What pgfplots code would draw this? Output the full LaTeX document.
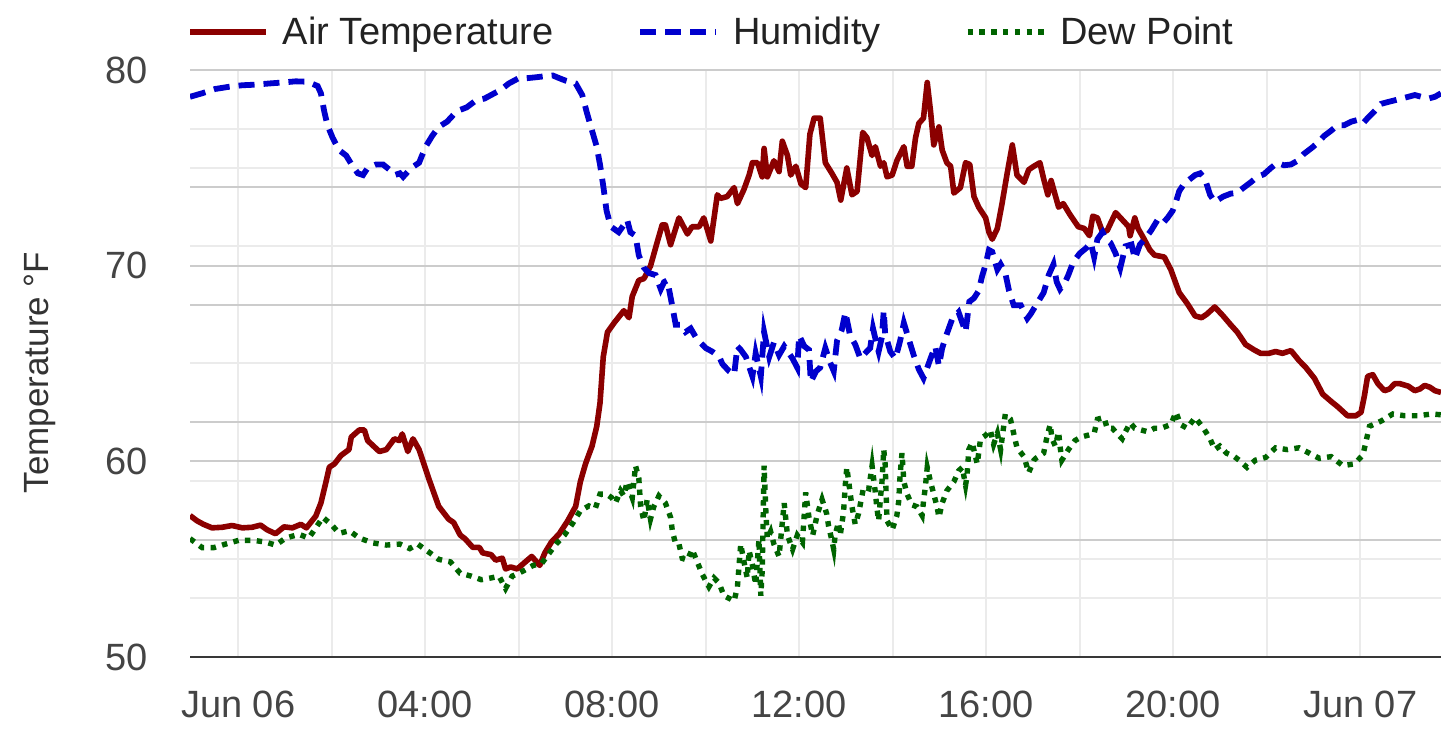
\documentclass[border=0pt]{standalone}
\usepackage{fontspec}
\setmainfont{Liberation Sans}
\usepackage{pgfplots}
\pgfplotsset{compat=1.18}
\definecolor{tempred}{HTML}{8B0000}
\definecolor{humblue}{HTML}{0000CD}
\definecolor{dewgreen}{HTML}{006400}
\definecolor{tickgray}{HTML}{444444}
\definecolor{legtext}{HTML}{222222}
\definecolor{gridmaj}{HTML}{CCCCCC}
\definecolor{gridmin}{HTML}{EBEBEB}
\begin{document}
\begin{tikzpicture}
\useasboundingbox (0,0) rectangle (720.5pt,371.5pt);
\begin{axis}[
  at={(95pt,43pt)}, anchor=south west,
  scale only axis, width=625.5pt, height=293.5pt,
  xmin=-1.03, xmax=25.73, ymin=50, ymax=80,
  xtick={0,4,...,24}, xticklabels={Jun 06,04:00,08:00,12:00,16:00,20:00,Jun 07},
  minor xtick={0,2,...,24},
  ytick={50,60,70,80},
  minor ytick={53,55,59,65,71,75,77},
  extra y ticks={56,62,68,74}, extra y tick labels={},
  extra y tick style={grid=major},
  ymajorgrids, yminorgrids, xminorgrids,
  major grid style={color=gridmaj, line width=1pt},
  minor grid style={color=gridmin, line width=1pt},
  major tick length=0pt, minor tick length=0pt,
  axis x line*=bottom, axis y line*=left,
  x axis line style={-, color=black!78, line width=1.1pt},
  y axis line style={draw=none},
  tick label style={font=\fontsize{19}{22}\selectfont, text=tickgray},
  xticklabel style={inner sep=0pt, yshift=-17pt},
  yticklabel style={inner sep=0pt, xshift=-21pt},
  /pgf/number format/assume math mode=true,
  legend columns=3,
  legend style={draw=none, fill=none, at={(rel axis cs:0,1)}, anchor=west, xshift=-1.5pt, yshift=19pt, inner sep=0pt, nodes={inner sep=0pt}, font=\fontsize{19}{22}\selectfont, text=legtext, /tikz/every odd column/.append style={column sep=7pt}, /tikz/every even column/.append style={column sep=42pt}},
  legend image code/.code={\draw[#1] (0pt,0pt) -- (38pt,0pt);},
]
\addplot[tempred, line width=2.8pt, line join=round] coordinates {
(-1.03,57.23) (-0.88,56.96) (-0.74,56.78) (-0.56,56.6) (-0.34,56.63) (-0.13,56.72) (0.09,56.6) (0.30,56.63) (0.48,56.74) (0.62,56.5) (0.80,56.3) (0.98,56.65) (1.16,56.6) (1.34,56.78) (1.46,56.6) (1.66,57.2) (1.77,57.87) (1.88,58.96) (1.95,59.7) (2.06,59.87) (2.20,60.3) (2.37,60.6) (2.42,61.24) (2.59,61.6) (2.70,61.6) (2.77,61.06) (3.02,60.5) (3.17,60.6) (3.34,61.15) (3.45,61.06) (3.51,61.4) (3.63,60.5) (3.74,61.15) (3.87,60.6) (4.08,59.1) (4.29,57.7) (4.50,57.05) (4.61,56.87) (4.75,56.23) (4.85,56.05) (5.02,55.6) (5.16,55.6) (5.23,55.32) (5.41,55.23) (5.51,54.95) (5.65,55.05) (5.72,54.5) (5.83,54.6) (5.97,54.5) (6.10,54.77) (6.28,55.14) (6.45,54.68) (6.56,55.32) (6.70,55.87) (6.87,56.3) (7.05,56.96) (7.22,57.7) (7.32,58.96) (7.43,59.87) (7.57,60.78) (7.67,61.78) (7.74,62.97) (7.81,65.34) (7.90,66.6) (8.05,67.1) (8.25,67.7) (8.36,67.34) (8.43,68.43) (8.57,69.25) (8.68,69.34) (8.82,69.98) (8.96,71.17) (9.07,72.08) (9.14,72.08) (9.25,71.07) (9.43,72.44) (9.61,71.62) (9.71,71.99) (9.86,71.99) (9.96,72.44) (10.11,71.26) (10.25,73.62) (10.32,73.44) (10.46,73.53) (10.61,73.99) (10.68,73.17) (10.82,73.9) (10.93,74.63) (11.0,75.26) (11.11,75.26) (11.21,74.54) (11.25,75.99) (11.32,74.54) (11.46,75.36) (11.57,74.81) (11.64,76.36) (11.75,75.63) (11.82,74.63) (11.93,75.08) (12.04,74.17) (12.14,73.99) (12.23,76.72) (12.32,77.54) (12.45,77.54) (12.56,75.26) (12.70,74.72) (12.81,74.26) (12.89,73.35) (13.02,74.99) (13.13,73.62) (13.24,73.8) (13.36,76.81) (13.45,76.54) (13.56,75.63) (13.63,76.08) (13.74,75.08) (13.81,75.26) (13.88,74.54) (13.99,74.63) (14.09,75.36) (14.24,76.08) (14.31,75.08) (14.41,75.08) (14.49,76.54) (14.56,77.27) (14.66,77.54) (14.74,79.36) (14.81,77.9) (14.88,76.17) (14.99,77.09) (15.06,75.9) (15.16,75.26) (15.24,75.08) (15.31,73.71) (15.45,73.99) (15.56,75.26) (15.65,75.17) (15.74,73.53) (15.84,72.99) (15.99,72.44) (16.06,71.71) (16.13,71.35) (16.24,71.9) (16.34,73.17) (16.45,74.72) (16.56,76.17) (16.66,74.63) (16.81,74.26) (16.91,74.9) (17.02,75.08) (17.15,75.26) (17.23,74.44) (17.32,73.62) (17.39,74.35) (17.55,72.99) (17.65,73.17) (17.79,72.62) (17.97,71.99) (18.10,71.9) (18.21,71.53) (18.28,72.53) (18.38,72.44) (18.49,71.71) (18.59,71.8) (18.77,72.71) (18.91,72.35) (19.05,71.99) (19.08,71.53) (19.18,72.44) (19.25,71.9) (19.36,71.44) (19.50,70.81) (19.60,70.54) (19.81,70.44) (19.95,69.8) (20.13,68.62) (20.30,68.07) (20.47,67.43) (20.61,67.34) (20.72,67.52) (20.89,67.89) (21.07,67.43) (21.23,66.98) (21.37,66.61) (21.55,65.97) (21.73,65.7) (21.87,65.52) (22.05,65.52) (22.19,65.61) (22.34,65.52) (22.52,65.66) (22.69,65.16) (22.84,64.79) (23.02,64.25) (23.20,63.43) (23.38,63.06) (23.52,62.79) (23.73,62.33) (23.91,62.33) (24.02,62.51) (24.09,63.33) (24.16,64.34) (24.27,64.43) (24.38,63.97) (24.52,63.61) (24.63,63.7) (24.74,63.97) (24.85,63.97) (25.03,63.84) (25.17,63.61) (25.28,63.7) (25.38,63.88) (25.49,63.79) (25.60,63.61) (25.73,63.52)
};
\addlegendentry{Air Temperature}
\addplot[humblue, line width=2.9pt, dash pattern=on 8pt off 4.5pt] coordinates {
(-1.03,78.63) (-0.77,78.81) (-0.49,79.03) (-0.20,79.14) (0.09,79.22) (0.37,79.25) (0.66,79.31) (0.95,79.36) (1.23,79.42) (1.48,79.4) (1.70,79.18) (1.77,78.81) (1.84,77.9) (1.91,77.18) (2.02,76.54) (2.16,75.9) (2.31,75.63) (2.45,75.08) (2.56,74.72) (2.67,74.63) (2.77,74.99) (2.95,75.17) (3.10,75.17) (3.24,74.9) (3.35,74.63) (3.46,74.72) (3.53,74.54) (3.70,74.99) (3.87,75.26) (4.01,76.08) (4.15,76.63) (4.29,77.09) (4.47,77.36) (4.68,77.9) (4.89,78.09) (5.09,78.45) (5.27,78.54) (5.48,78.81) (5.62,78.99) (5.79,79.31) (6.0,79.58) (6.17,79.58) (6.38,79.63) (6.59,79.69) (6.73,79.72) (6.87,79.58) (7.01,79.45) (7.22,79.31) (7.36,78.72) (7.46,77.81) (7.57,76.9) (7.67,76.08) (7.74,75.17) (7.81,74.08) (7.88,72.81) (7.97,72.0) (8.14,71.71) (8.25,72.08) (8.32,72.35) (8.39,71.71) (8.5,71.53) (8.57,70.53) (8.68,69.89) (8.79,69.62) (8.93,69.52) (9.04,68.8) (9.11,69.16) (9.18,69.25) (9.29,67.89) (9.36,66.98) (9.46,66.98) (9.57,66.61) (9.68,66.79) (9.79,66.34) (9.89,66.07) (10.0,65.79) (10.14,65.61) (10.29,65.34) (10.36,64.97) (10.5,64.61) (10.61,64.43) (10.68,65.88) (10.75,65.7) (10.86,65.34) (11.0,64.34) (11.07,65.52) (11.18,64.34) (11.25,66.61) (11.36,65.34) (11.46,66.07) (11.57,65.43) (11.68,65.88) (11.86,65.25) (11.96,64.79) (12.0,66.43) (12.11,65.88) (12.21,65.7) (12.25,64.06) (12.36,64.6) (12.45,64.79) (12.56,65.79) (12.66,65.06) (12.74,64.61) (12.81,66.16) (12.91,66.7) (12.99,67.62) (13.09,66.43) (13.2,65.97) (13.31,65.25) (13.41,65.52) (13.52,65.79) (13.58,66.79) (13.66,65.97) (13.7,65.61) (13.77,66.34) (13.81,67.71) (13.84,66.52) (13.95,65.61) (14.06,65.25) (14.16,66.16) (14.24,67.07) (14.38,65.97) (14.45,65.43) (14.56,64.7) (14.66,64.25) (14.81,65.25) (14.91,65.88) (14.99,64.88) (15.06,65.79) (15.16,66.52) (15.27,67.25) (15.41,67.62) (15.56,66.61) (15.64,68.16) (15.74,68.34) (15.84,68.71) (15.91,69.43) (15.99,70.07) (16.06,70.8) (16.13,70.71) (16.24,69.8) (16.31,70.07) (16.41,69.62) (16.49,68.71) (16.59,67.98) (16.74,67.98) (16.88,67.3) (16.95,67.52) (17.09,68.07) (17.23,68.62) (17.34,69.53) (17.44,70.07) (17.51,69.16) (17.58,68.8) (17.69,69.16) (17.76,69.53) (17.86,70.17) (18.0,70.62) (18.14,70.9) (18.24,71.17) (18.31,70.44) (18.38,71.35) (18.49,71.71) (18.56,71.35) (18.66,71.17) (18.77,70.62) (18.87,69.89) (18.98,70.99) (19.11,71.08) (19.18,70.35) (19.29,71.08) (19.39,71.35) (19.53,71.8) (19.67,72.35) (19.78,72.17) (19.88,72.44) (19.99,72.81) (20.06,73.26) (20.13,73.81) (20.23,74.17) (20.37,74.44) (20.47,74.63) (20.58,74.72) (20.68,74.44) (20.79,73.62) (20.89,73.26) (21.07,73.53) (21.23,73.68) (21.37,73.72) (21.51,73.99) (21.66,74.26) (21.8,74.54) (21.94,74.67) (22.09,74.99) (22.23,75.26) (22.37,75.13) (22.52,75.17) (22.66,75.36) (22.80,75.72) (22.95,75.99) (23.09,76.27) (23.23,76.63) (23.38,76.9) (23.52,77.18) (23.66,77.18) (23.81,77.36) (23.95,77.45) (24.06,77.27) (24.16,77.54) (24.31,77.9) (24.45,78.27) (24.59,78.36) (24.74,78.45) (24.88,78.54) (25.03,78.63) (25.17,78.72) (25.31,78.63) (25.46,78.54) (25.6,78.63) (25.73,78.81)
};
\addlegendentry{Humidity}
\addplot[dewgreen, line width=2.7pt, dash pattern=on 2.7pt off 3.2pt] coordinates {
(-1.03,56.05) (-0.77,55.59) (-0.52,55.59) (-0.27,55.77) (0.01,55.96) (0.34,55.96) (0.59,55.87) (0.80,55.72) (1.02,56.08) (1.30,56.27) (1.51,56.08) (1.66,56.59) (1.81,57.14) (1.99,56.78) (2.16,56.32) (2.38,56.45) (2.59,56.08) (2.88,55.83) (3.17,55.72) (3.46,55.77) (3.67,55.54) (3.84,55.77) (4.08,55.36) (4.29,54.99) (4.54,54.86) (4.75,54.28) (4.99,54.13) (5.2,53.95) (5.41,54.04) (5.58,54.13) (5.72,53.5) (5.86,54.13) (6.1,54.4) (6.31,54.68) (6.49,54.77) (6.63,55.23) (6.80,55.77) (6.98,56.23) (7.15,56.81) (7.32,57.47) (7.50,57.72) (7.64,57.59) (7.74,58.32) (7.88,58.32) (7.99,58.14) (8.07,57.86) (8.18,58.5) (8.25,58.23) (8.32,58.96) (8.39,58.41) (8.43,58.14) (8.5,59.78) (8.57,59.14) (8.61,57.68) (8.68,56.96) (8.75,58.05) (8.82,57.05) (8.89,57.68) (9.0,58.23) (9.14,57.86) (9.25,57.14) (9.29,56.41) (9.36,55.77) (9.43,55.77) (9.5,55.04) (9.61,54.95) (9.71,55.5) (9.82,54.86) (9.93,54.22) (10.07,53.59) (10.18,54.04) (10.29,53.77) (10.39,53.13) (10.54,52.95) (10.61,52.86) (10.68,53.59) (10.75,55.77) (10.82,54.86) (10.89,54.04) (10.93,55.43) (11.0,54.7) (11.07,53.7) (11.14,56.0) (11.18,53.13) (11.21,54.4) (11.25,59.78) (11.29,57.32) (11.32,56.04) (11.39,56.41) (11.46,55.77) (11.57,55.14) (11.68,57.86) (11.75,56.22) (11.86,55.5) (11.96,56.22) (12.07,55.86) (12.14,58.41) (12.21,57.14) (12.29,56.22) (12.39,57.3) (12.49,58.05) (12.59,57.32) (12.63,56.69) (12.7,55.96) (12.74,55.5) (12.77,56.23) (12.84,56.87) (12.88,56.23) (12.95,57.41) (12.99,58.87) (13.02,59.69) (13.09,58.41) (13.13,57.68) (13.2,56.78) (13.27,57.32) (13.38,58.69) (13.49,58.6) (13.56,59.78) (13.63,58.41) (13.66,57.68) (13.7,56.96) (13.74,58.14) (13.77,58.87) (13.81,60.6) (13.84,59.87) (13.88,56.96) (13.99,56.5) (14.09,57.23) (14.13,57.96) (14.16,59.32) (14.2,60.42) (14.24,58.96) (14.31,58.32) (14.41,57.78) (14.52,57.68) (14.63,57.23) (14.66,57.96) (14.7,58.69) (14.74,59.69) (14.81,58.96) (14.88,58.32) (14.95,57.68) (14.99,57.14) (15.06,57.87) (15.16,58.5) (15.31,58.96) (15.41,59.51) (15.49,59.69) (15.56,58.78) (15.59,59.23) (15.63,60.6) (15.7,60.96) (15.81,59.87) (15.88,61.15) (15.99,61.33) (16.09,61.6) (16.16,60.87) (16.24,61.42) (16.31,60.6) (16.34,61.15) (16.41,62.42) (16.52,62.15) (16.59,61.42) (16.66,60.69) (16.81,60.24) (16.91,59.42) (17.02,60.05) (17.06,60.15) (17.23,60.42) (17.3,61.24) (17.37,61.88) (17.41,61.15) (17.48,60.78) (17.55,61.51) (17.58,60.78) (17.62,60.06) (17.76,60.6) (17.9,61.06) (18.03,61.24) (18.17,61.33) (18.31,61.42) (18.38,62.15) (18.52,62.24) (18.59,61.69) (18.7,61.69) (18.8,61.42) (18.91,61.15) (18.98,61.51) (19.08,61.97) (19.18,61.69) (19.32,61.6) (19.46,61.51) (19.6,61.69) (19.74,61.69) (19.95,61.88) (20.06,62.51) (20.16,61.88) (20.3,61.69) (20.47,62.24) (20.65,61.69) (20.79,61.15) (20.89,60.6) (21.0,60.78) (21.14,60.42) (21.31,60.24) (21.41,60.06) (21.58,59.69) (21.76,60.06) (21.98,60.2) (22.19,60.69) (22.44,60.6) (22.69,60.69) (22.91,60.42) (23.13,60.15) (23.38,60.24) (23.63,59.78) (23.88,59.87) (24.06,60.33) (24.13,61.06) (24.2,61.79) (24.45,62.06) (24.7,62.42) (24.95,62.33) (25.24,62.33) (25.53,62.42) (25.73,62.38)
};
\addlegendentry{Dew Point}
\end{axis}
\node[rotate=90, anchor=base, font=\fontsize{17.5}{20}\selectfont, text=black!80] at (24pt,185.25pt) {Temperature °F};
\end{tikzpicture}
\end{document}
